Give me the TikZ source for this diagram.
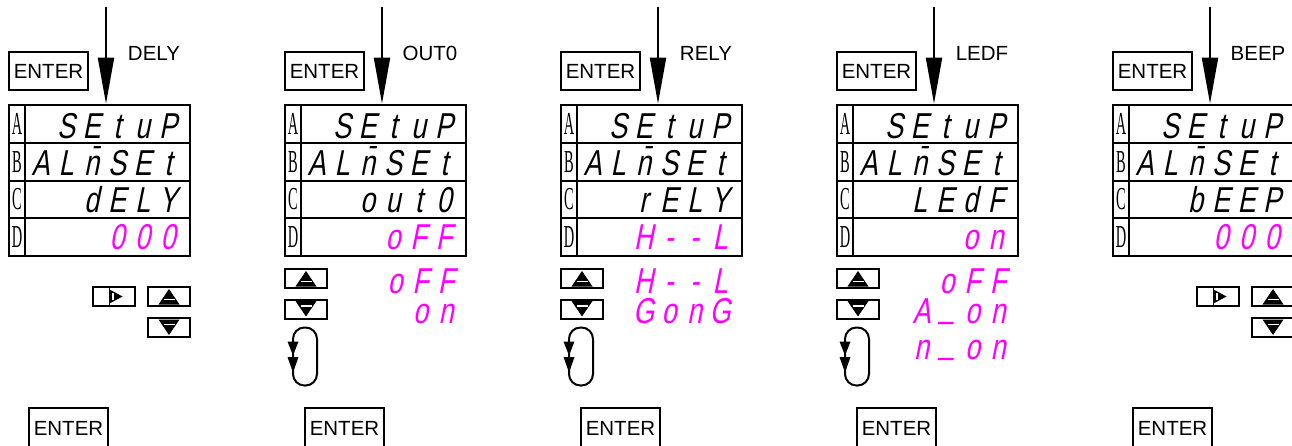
\documentclass[tikz,border=0pt]{standalone}
\usepackage{fontspec}
\setmainfont{Liberation Sans}
\newfontfamily\segfont[FakeSlant=0.2,FakeStretch=0.75]{Liberation Sans}
\newfontfamily\cellfont[FakeStretch=0.45]{Liberation Serif}
\usetikzlibrary{arrows.meta}
\definecolor{segmag}{RGB}{255,0,255}
\newcommand\sg[1]{\makebox[25.5pt][c]{#1}}
\newcommand\nbar{\={n}}
\newcommand\segus{\raisebox{6pt}{\_}}
\def\segs#1{\segloop#1\relax}
\def\segloop#1{\ifx#1\relax\else\sg{#1}\expandafter\segloop\fi}
\tikzset{
 keybox/.style={draw,line width=1.8pt,minimum width=79pt,minimum height=38pt,inner sep=0pt,font=\fontsize{20.5}{21}\selectfont},
 lbl/.style={inner sep=0pt,font=\fontsize{20.5}{21}\selectfont},
 dispframe/.style={draw,line width=2.6pt,minimum width=181pt,minimum height=151pt,inner sep=0pt},
 rowline/.style={line width=2.2pt},
 celllbl/.style={inner sep=0pt,font=\cellfont\fontsize{32}{32}\selectfont},
 segtxt/.style={inner sep=0pt,anchor=base east,font=\segfont\fontsize{36}{36}\selectfont},
 segpink/.style={segtxt,text=segmag},
 flow/.style={line width=2pt,-{Triangle[width=16pt,length=46pt]}},
 btn/.style={draw,line width=2pt,minimum width=42pt,minimum height=19pt,inner sep=0pt},
 stripe/.style={white,line width=1.2pt},
 loopbox/.style={draw,line width=2pt,minimum width=24pt,minimum height=58pt,rounded corners=11.5pt,inner sep=0pt},
}
\newcommand\upkey[3]{%
 \node[btn] (#1) at (#2,#3) {};
 \fill (#2-10.5,#3+8) -- (#2+10.5,#3+8) -- (#2,#3-7.5) -- cycle;
 \draw[stripe] (#2-5.5,#3+3) -- (#2+5.5,#3+3);}
\newcommand\downkey[3]{%
 \node[btn] (#1) at (#2,#3) {};
 \fill (#2-10.5,#3-8) -- (#2+10.5,#3-8) -- (#2,#3+7.5) -- cycle;
 \draw[stripe] (#2-5.5,#3-3) -- (#2+5.5,#3-3);}
\newcommand\rightkey[3]{%
 \node[btn] (#1) at (#2,#3) {};
 \draw[line width=1.8pt] (#2-4,#3-9.5) -- (#2-4,#3+9.5);
 \fill (#2-4,#3-7) -- (#2+9,#3) -- (#2-4,#3+7) -- cycle;
 \draw[stripe] (#2-0.5,#3-3.5) -- (#2-0.5,#3+3.5);}
\newcommand\loopkey[3]{%
 \node[loopbox] (#1) at (#2,#3) {};
 \fill (#2-17.5,#3-15) -- (#2-6.5,#3-15) -- (#2-12,#3-1) -- cycle;
 \fill (#2-17.5,#3+0.5) -- (#2-6.5,#3+0.5) -- (#2-12,#3+16) -- cycle;}
\begin{document}
\begin{tikzpicture}[x=1pt,y=-1pt]
\useasboundingbox (0,0) rectangle (1292,446);
\foreach \i/\lab/\rc/\rd in {0/DELY/dELY/000,1/OUT0/out0/oFF,2/RELY/rELY/H--L,3/LEDF/LEdF/on,4/BEEP/bEEP/000}{
 \pgfmathsetmacro\X{9+276*\i}
 \node[keybox] (entT\i) at (\X+39.5,71) {ENTER};
 \node[lbl] (lab\i) at (\X+145,53.5) {\lab};
 \node[dispframe] (disp\i) at (\X+90.5,180.5) {};
 \coordinate (src\i) at (\X+97,7);
 \draw[flow] (src\i) -- (src\i |- disp\i.north);
 \draw[rowline] (\X,143) -- (\X+181,143) (\X,181) -- (\X+181,181) (\X,218) -- (\X+181,218);
 \draw[rowline] (\X+16,105) -- (\X+16,256);
 \node[celllbl] (ca\i) at (\X+8,124) {A};
 \node[celllbl] (cb\i) at (\X+8,162) {B};
 \node[celllbl] (cc\i) at (\X+8,199.5) {C};
 \node[celllbl] (cd\i) at (\X+8,237) {D};
 \node[segtxt] (ra\i) at (\X+172,138.5) {\segs{SEtuP}};
 \node[segtxt] (rb\i) at (\X+172,175.5) {\segs{AL\nbar SEt}};
 \node[segtxt] (rc\i) at (\X+172,212.5) {\expandafter\segs\expandafter{\rc}};
 \node[segpink] (rd\i) at (\X+172,249.5) {\expandafter\segs\expandafter{\rd}};
 \node[keybox,minimum height=40pt] (entB\i) at (\X+59.5,428) {ENTER};
}
\rightkey{rt0}{113.5}{296.5}
\upkey{up0}{169}{296.5}
\downkey{dn0}{169}{327.5}
\rightkey{rt4}{1217.5}{296.5}
\upkey{up4}{1273}{296.5}
\downkey{dn4}{1273}{327.5}
\upkey{up1}{306}{278.5}
\downkey{dn1}{306}{309}
\loopkey{lp1}{305}{356.5}
\upkey{up2}{582}{278.5}
\downkey{dn2}{582}{309}
\loopkey{lp2}{581}{356.5}
\upkey{up3}{858}{278.5}
\downkey{dn3}{858}{309}
\loopkey{lp3}{857}{356.5}
\node[segpink] (x1a) at (459,293) {\segs{oFF}};
\node[segpink] (x1b) at (459,323) {\segs{on}};
\node[segpink] (x2a) at (733,293) {\segs{H--L}};
\node[segpink] (x2b) at (733,323) {\segs{GonG}};
\node[segpink] (x3a) at (1011,293) {\segs{oFF}};
\node[segpink] (x3b) at (1011,323) {\segs{A\segus on}};
\node[segpink] (x3c) at (1011,359) {\segs{n\segus on}};
\end{tikzpicture}
\end{document}
